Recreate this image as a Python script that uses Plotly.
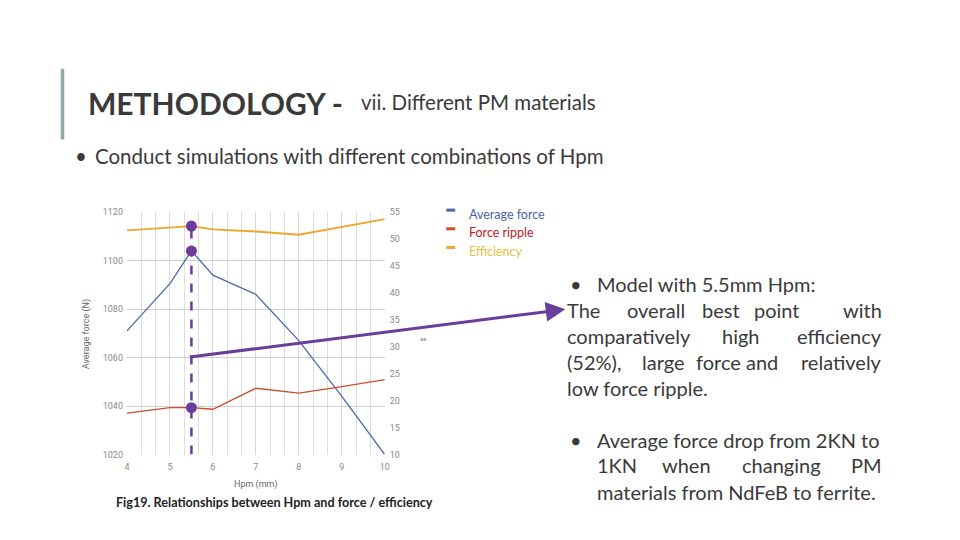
import plotly.graph_objects as go

# ---- data ----
hpm = [4, 5, 5.5, 6, 7, 8, 9, 10]
avg_force = [1071, 1090.5, 1104, 1094, 1086, 1067, 1044, 1020]
force_ripple = [17.7, 18.7, 18.7, 18.4, 22.3, 21.4, 22.6, 23.9]
efficiency = [51.6, 52.1, 52.4, 51.8, 51.4, 50.8, 52.3, 53.7]
best_hpm = 5.5
best_idx = hpm.index(best_hpm)

x_ticks = [4, 5, 6, 7, 8, 9, 10]
left_ticks = [1020, 1040, 1060, 1080, 1100, 1120]
right_ticks = [10, 15, 20, 25, 30, 35, 40, 45, 50, 55]

BLUE = "#4a6aab"
RED = "#c9502b"
ORANGE = "#f0a52c"
PURPLE = "#6a3d9a"
TEXT = "#3a3a3a"

W, H = 960, 540
def px(x):
    return x / W
def py(y):
    return 1 - y / H

fig = go.Figure()

fig.add_trace(go.Scatter(x=hpm, y=avg_force, mode="lines", line=dict(color=BLUE, width=1.3),
                         yaxis="y", name="Average force", showlegend=False))
fig.add_trace(go.Scatter(x=hpm, y=force_ripple, mode="lines", line=dict(color=RED, width=1.3),
                         yaxis="y2", name="Force ripple", showlegend=False))
fig.add_trace(go.Scatter(x=hpm, y=efficiency, mode="lines", line=dict(color=ORANGE, width=1.8),
                         yaxis="y2", name="Efficiency", showlegend=False))

# highlighted best point
fig.add_shape(type="line", xref="x", yref="y2", x0=best_hpm, x1=best_hpm,
              y0=10, y1=efficiency[best_idx], line=dict(color=PURPLE, width=2.5, dash="dash"))
fig.add_trace(go.Scatter(x=[best_hpm], y=[avg_force[best_idx]], mode="markers",
                         marker=dict(color=PURPLE, size=11), yaxis="y", showlegend=False, cliponaxis=False))
fig.add_trace(go.Scatter(x=[best_hpm, best_hpm], y=[force_ripple[best_idx], efficiency[best_idx]],
                         mode="markers", marker=dict(color=PURPLE, size=11), yaxis="y2",
                         showlegend=False, cliponaxis=False))

ann = []
# arrow from the highlighted line to the text
ann.append(dict(xref="paper", yref="paper", x=px(567), y=py(310),
                axref="pixel", ayref="pixel", ax=190 - 567, ay=358 - 310,
                showarrow=True, arrowhead=2, arrowsize=1.3, arrowwidth=3,
                arrowcolor=PURPLE, text=""))

# titles
ann.append(dict(xref="paper", yref="paper", x=px(84), y=py(100), xanchor="left", yanchor="middle",
                text="<b>METHODOLOGY -</b>", showarrow=False,
                font=dict(family="Lato", size=30, color=TEXT)))
ann.append(dict(xref="paper", yref="paper", x=px(359), y=py(99), xanchor="left", yanchor="middle",
                text="vii. Different PM materials", showarrow=False,
                font=dict(family="Lato", size=20.5, color=TEXT)))
ann.append(dict(xref="paper", yref="paper", x=px(71), y=py(154), xanchor="left", yanchor="middle",
                text="•", showarrow=False, font=dict(family="Lato", size=20.5, color=TEXT)))
ann.append(dict(xref="paper", yref="paper", x=px(91), y=py(154), xanchor="left", yanchor="middle",
                text="Conduct simulations with different combinations of Hpm", showarrow=False,
                font=dict(family="Lato", size=20.5, color=TEXT)))

# legend
leg = [("Average force", BLUE, "#4a64a8", 213), ("Force ripple", RED, "#c0202a", 232),
       ("Efficiency", ORANGE, "#e3c23a", 251)]
for name, c, tc, y in leg:
    ann.append(dict(xref="paper", yref="paper", x=px(468), y=py(y), xanchor="left", yanchor="middle",
                    text=name, showarrow=False, font=dict(family="Lato", size=12.5, color=tc)))
    fig.add_shape(type="line", xref="paper", yref="paper", x0=px(447), x1=px(456),
                  y0=py(y - 4), y1=py(y - 4), line=dict(color=c, width=3))

# axis titles & caption
ann.append(dict(xref="paper", yref="paper", x=px(85), y=py(335), xanchor="center", yanchor="middle",
                text="Average force (N)", textangle=-90, showarrow=False,
                font=dict(family="Roboto", size=9, color="#666")))
ann.append(dict(xref="paper", yref="paper", x=px(255), y=py(489), xanchor="center", yanchor="middle",
                text="Hpm (mm)", showarrow=False, font=dict(family="Roboto", size=9, color="#666")))
ann.append(dict(xref="paper", yref="paper", x=px(274), y=py(507), xanchor="center", yanchor="middle",
                text="<b>Fig19. Relationships between Hpm and force / efficiency</b>", showarrow=False,
                font=dict(family="Lato", size=12.6, color="#222")))
ann.append(dict(xref="paper", yref="paper", x=px(424), y=py(340), xanchor="center", yanchor="middle",
                text="ae", showarrow=False, font=dict(family="Roboto", size=6, color="#888")))

# right-hand text (justified lines built word by word)
FONT = dict(family="Lato", size=20, color=TEXT)
RIGHT = 888
def word(x, y, t, anchor="left"):
    ann.append(dict(xref="paper", yref="paper", x=px(x), y=py(y), xanchor=anchor, yanchor="middle",
                    text=t, showarrow=False, font=FONT))

word(570, 284, "•")
word(597, 284, "Model with 5.5mm Hpm:")
word(567, 311, "The"); word(627, 311, "overall"); word(703, 311, "best")
word(755, 311, "point"); word(RIGHT, 311, "with", "right")
word(567, 337, "comparatively"); word(723, 337, "high"); word(RIGHT, 337, "efficiency", "right")
word(567, 364, "(52%),"); word(642, 364, "large"); word(697, 364, "force")
word(747, 364, "and"); word(RIGHT, 364, "relatively", "right")
word(567, 390, "low force ripple.")
word(570, 443, "•")
word(597, 443, "Average force drop from 2KN to")
word(597, 469, "1KN"); word(663, 469, "when"); word(743, 469, "changing")
word(RIGHT, 469, "PM", "right")
word(597, 496, "materials from NdFeB to ferrite.")

# left vertical accent bar
fig.add_shape(type="line", xref="paper", yref="paper", x0=px(60), x1=px(60), y0=py(65), y1=py(137),
              line=dict(color="#8fa8aa", width=3.5))

axis_font = dict(family="Roboto", size=9, color="#8a8a8a")
fig.update_layout(
    width=W, height=H, margin=dict(l=0, r=0, t=0, b=0),
    paper_bgcolor="white", plot_bgcolor="white",
    annotations=ann,
    xaxis=dict(domain=[px(125), px(385)], range=[4, 10], tickvals=x_ticks, ticktext=[str(v) for v in x_ticks],
               showgrid=True, gridcolor="#d8d8d8", gridwidth=1, zeroline=False,
               minor=dict(dtick=1/3, tick0=4, showgrid=True, gridcolor="#dedede", gridwidth=1),
               showline=False, tickfont=axis_font, ticks="", ticklabelstandoff=5),
    yaxis=dict(domain=[py(458), py(211)], range=[1020, 1120], tickvals=left_ticks,
               showgrid=True, gridcolor="#cfcfcf", gridwidth=1, zeroline=False,
               tickfont=axis_font, ticks="", showline=False, ticklabelstandoff=3),
    yaxis2=dict(overlaying="y", side="right", range=[10, 55], tickvals=right_ticks,
                showgrid=False, zeroline=False, tickfont=axis_font, ticks="", anchor="x",
                ticklabelstandoff=4),
)

fig.write_html("out.html")
